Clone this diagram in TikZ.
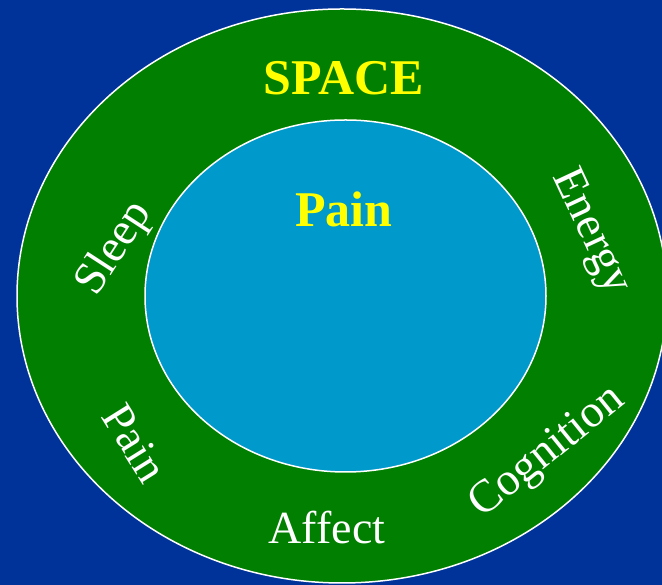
\documentclass[tikz,border=0pt]{standalone}
\usepackage{fontspec}
\setmainfont{Liberation Serif}
\definecolor{spacebg}{HTML}{003399}
\definecolor{ringgreen}{HTML}{007F00}
\definecolor{coreblue}{HTML}{0099CC}
\definecolor{titleyellow}{HTML}{FFFF00}

\begin{document}
\begin{tikzpicture}[x=1pt,y=1pt,
  every node/.style={inner sep=0pt,text=white,font=\fontsize{46}{50}\selectfont},
  titletext/.style={text=titleyellow,font=\fontsize{50}{54}\selectfont\bfseries}]
  \useasboundingbox (0,0) rectangle (662,585);
  \clip (0,0) rectangle (662,585);
  \fill[spacebg] (0,0) rectangle (662,585);

  % rings
  \draw[white, line width=1.5pt, fill=ringgreen] (342,289) ellipse [x radius=325, y radius=287];
  \draw[white, line width=1.5pt, fill=coreblue] (345.5,289) ellipse [x radius=200.5, y radius=176];

  \node[titletext, anchor=base] (space) at (344,490) {SPACE};
  \node[titletext, anchor=base] (pain) at (344,358) {Pain};

  \node[rotate=57] (sleep) at (115,336) {Sleep};
  \node[rotate=-58] (painring) at (135,142) {Pain};
  \node[anchor=base] (affect) at (327,41) {Affect};
  \node[rotate=39] (cognition) at (548,132) {Cognition};
  \node[rotate=-65] (energy) at (590,353) {Energy};
\end{tikzpicture}
\end{document}
